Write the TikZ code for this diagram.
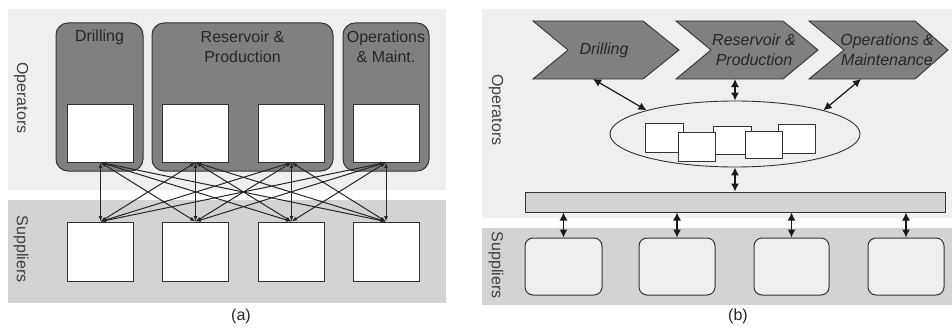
\documentclass[tikz,border=0pt]{standalone}
\usepackage{fontspec}
\setmainfont{Liberation Sans}
\usetikzlibrary{shapes.geometric,arrows.meta,calc}
\definecolor{bandL}{HTML}{EFEFEF}
\definecolor{bandD}{HTML}{D3D3D3}
\definecolor{grpC}{HTML}{808080}
\definecolor{lineC}{HTML}{333333}
\begin{document}
\begin{tikzpicture}[x=1pt,y=-1pt,
  grp/.style={draw=lineC,fill=grpC,rounded corners=12pt,line width=1pt,minimum height=148pt},
  wbox/.style={draw=lineC,fill=white,line width=0.9pt,minimum width=66pt,inner sep=0pt},
  lab/.style={font=\fontsize{16}{20}\selectfont,text=black!85,align=center,inner sep=0pt},
  side/.style={font=\fontsize{16}{20}\selectfont,text=black!75,rotate=-90,inner sep=0pt},
  chev/.style={draw=lineC,fill=grpC,line width=0.9pt},
  mbox/.style={draw=lineC,fill=white,line width=0.8pt,inner sep=0pt},
  sbox/.style={draw=lineC,fill=bandL,line width=1pt,rounded corners=8pt,minimum height=57pt,inner sep=0pt},
  arrA/.style={{Latex[length=5.5pt,width=4pt]}-{Latex[length=5.5pt,width=4pt]},line width=1pt,draw=black!85},
  arrB/.style={{Latex[length=8pt,width=8pt]}-{Latex[length=8pt,width=8pt]},line width=1.2pt,draw=black!90}]
\useasboundingbox (0,0) rectangle (952,329);
% ---------- panel (a) ----------
\fill[bandL] (8,9) rectangle (446,190);
\fill[bandD] (8,200) rectangle (446,303);
\node[side] (opA) at (21,98) {Operators};
\node[side] (suA) at (21,249) {Suppliers};
\node[grp,minimum width=87pt] (gD) at (99.5,97) {};
\node[grp,minimum width=181pt] (gR) at (242.5,97) {};
\node[grp,minimum width=86pt] (gO) at (386,97) {};
\node[lab] (tD) at (99.5,37) {Drilling};
\node[lab] (tR) at (242.5,47) {Reservoir \&\\Production};
\node[lab] (tO) at (386,47) {Operations\\\& Maint.};
\node[wbox,minimum height=58pt] (t1) at (100.5,133) {};
\node[wbox,minimum height=58pt] (t2) at (195.5,133) {};
\node[wbox,minimum height=58pt] (t3) at (291.5,133) {};
\node[wbox,minimum height=58pt] (t4) at (386,133) {};
\node[wbox,minimum height=59pt] (b1) at (100.5,251.5) {};
\node[wbox,minimum height=59pt] (b2) at (195.5,251.5) {};
\node[wbox,minimum height=59pt] (b3) at (291.5,251.5) {};
\node[wbox,minimum height=59pt] (b4) at (386,251.5) {};
\foreach \i in {1,...,4}{\foreach \j in {1,...,4}{\draw[arrA] (t\i.south) -- (b\j.north);}}
\node[lab] (capA) at (241,316) {(a)};
% ---------- panel (b) ----------
\fill[bandL] (482,9) rectangle (952,218);
\fill[bandD] (482,228) rectangle (952,305);
\node[side] (opB) at (496,110) {Operators};
\node[side] (suB) at (496,265) {Suppliers};
\draw[chev] (533,21) -- (643,21) -- (679,50) -- (643,79) -- (533,79) -- (568,50) -- cycle;
\draw[chev] (676,21) -- (783,21) -- (818,50) -- (783,79) -- (676,79) -- (711,50) -- cycle;
\draw[chev] (809,21) -- (915,21) -- (948,50) -- (915,79) -- (809,79) -- (844,50) -- cycle;
\node[lab,font=\fontsize{16}{20}\selectfont\itshape] (cDt) at (604,50) {Drilling};
\node[lab,font=\fontsize{16}{20}\selectfont\itshape] (cRt) at (754,50) {Reservoir \&\\Production};
\node[lab,font=\fontsize{16}{20}\selectfont\itshape] (cOt) at (887,50) {Operations \&\\Maintenance};
\coordinate (cD) at (593,79);
\coordinate (cR) at (733,79);
\coordinate (cO) at (861,79);
\node[ellipse,draw=lineC,fill=bandL,line width=0.9pt,minimum width=250pt,minimum height=66pt,inner sep=0pt] (ell) at (735,134) {};
\node[mbox,minimum width=38pt,minimum height=29pt] (m1) at (664,137.5) {};
\node[mbox,minimum width=38pt,minimum height=28pt] (m3) at (732,140) {};
\node[mbox,minimum width=37pt,minimum height=29pt] (m5) at (796.5,138.5) {};
\node[mbox,minimum width=37pt,minimum height=29pt] (m2) at (696.5,146.5) {};
\node[mbox,minimum width=37pt,minimum height=27pt] (m4) at (763.5,144.5) {};
\node[draw=lineC,fill=bandD,line width=1pt,minimum width=420pt,minimum height=20pt,inner sep=0pt] (bar) at (735,202) {};
\node[sbox,minimum width=77pt] (s1) at (563.5,266.5) {};
\node[sbox,minimum width=76pt] (s2) at (677,266.5) {};
\node[sbox,minimum width=75pt] (s3) at (791.5,266.5) {};
\node[sbox,minimum width=76pt] (s4) at (906,266.5) {};
\draw[arrB] (cD) -- (ell.165);
\draw[arrB] (ell.north |- cR) -- (ell.north);
\draw[arrB] (cO) -- (ell.15);
\draw[arrB] (ell.south) -- (bar.north);
\foreach \i in {1,...,4}{\draw[arrB] (bar.south -| s\i.north) -- (s\i.north);}
\node[lab] (capB) at (738,316) {(b)};
\end{tikzpicture}
\end{document}
